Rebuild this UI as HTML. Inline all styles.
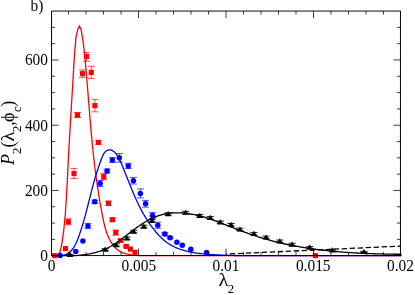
<!DOCTYPE html><html><head><meta charset="utf-8"><style>html,body{margin:0;padding:0;background:#fff}svg{display:block;will-change:transform}text{font-family:"Liberation Serif",serif;fill:#000}</style></head><body>
<svg width="415" height="295" viewBox="0 0 415 295">
<rect width="415" height="295" fill="#fff"/>
<clipPath id="c"><rect x="50.60" y="11.05" width="350.85" height="246.15"/></clipPath>
<g clip-path="url(#c)" fill="none" stroke-width="1.30" stroke-linejoin="miter">
<path d="M51.60 255.70 L53.24 255.70 L54.98 255.70 L56.72 255.70 L58.47 254.34 L60.21 251.23 L61.96 243.30 L63.70 230.77 L65.45 213.04 L67.19 183.47 L68.93 148.04 L70.68 118.15 L72.42 89.53 L74.17 59.21 L75.91 37.93 L77.66 29.66 L79.40 26.08 L81.14 29.78 L82.89 40.13 L84.63 54.75 L86.38 73.22 L88.12 95.04 L89.87 116.97 L91.61 136.86 L93.35 154.21 L95.10 169.25 L96.84 182.38 L98.59 194.00 L100.33 204.39 L102.08 213.80 L103.82 222.32 L105.56 229.23 L107.31 234.44 L109.05 238.47 L110.80 241.70 L112.54 244.38 L114.29 246.62 L116.03 248.48 L117.77 249.98 L119.52 251.15 L121.26 252.06 L123.01 252.77 L124.75 253.35 L126.49 253.81 L128.24 254.20 L129.98 254.52 L131.73 254.79 L133.47 255.02 L135.22 255.22 L136.96 255.37 L138.70 255.50 L140.45 255.60 L142.19 255.67 L143.94 255.70 L145.68 255.70 L147.43 255.70 L149.17 255.70 L150.91 255.70 L152.66 255.70 L154.40 255.70 L156.15 255.68 L157.89 255.66 L159.64 255.65 L161.38 255.65 L163.12 255.66 L164.87 255.69 L166.61 255.70 L168.36 255.70 L170.10 255.70 L171.85 255.70 L173.59 255.70 L175.33 255.70 L177.08 255.70 L178.82 255.70 L180.57 255.70 L182.31 255.70 L184.06 255.70 L185.80 255.70 L187.54 255.70 L189.29 255.70 L191.03 255.70 L192.78 255.70 L194.52 255.70 L196.26 255.70 L198.01 255.70 L199.75 255.70 L201.50 255.70 L203.24 255.70 L204.99 255.70 L206.73 255.70 L208.47 255.70 L210.22 255.70 L211.96 255.70 L213.71 255.70 L215.45 255.70 L217.20 255.70 L218.94 255.70 L220.68 255.70 L222.43 255.70 L224.17 255.70 L225.92 255.70 L227.66 255.70 L229.41 255.70 L231.15 255.70 L232.89 255.70 L234.64 255.70 L236.38 255.70 L238.13 255.70 L239.87 255.70 L241.62 255.70 L243.36 255.70 L245.10 255.70 L246.85 255.70 L248.59 255.70 L250.34 255.70 L252.08 255.70 L253.83 255.70 L255.57 255.70 L257.31 255.70 L259.06 255.70 L260.80 255.70 L262.55 255.70 L264.29 255.70 L266.03 255.70 L267.78 255.70 L269.52 255.70 L271.27 255.70 L273.01 255.70 L274.76 255.70 L276.50 255.70 L278.24 255.70 L279.99 255.70 L281.73 255.70 L283.48 255.70 L285.22 255.70 L286.97 255.70 L288.71 255.70 L290.45 255.70 L292.20 255.70 L293.94 255.70 L295.69 255.70 L297.43 255.70 L299.18 255.70 L300.92 255.70 L302.66 255.70 L304.41 255.70 L306.15 255.70 L307.90 255.70 L309.64 255.70 L311.39 255.70 L313.13 255.70 L314.87 255.70 L316.62 255.70 L318.36 255.70 L320.11 255.70 L321.85 255.70 L323.60 255.70 L325.34 255.70 L327.08 255.70 L328.83 255.70 L330.57 255.70 L332.32 255.70 L334.06 255.70 L335.80 255.70 L337.55 255.70 L339.29 255.70 L341.04 255.70 L342.78 255.70 L344.53 255.70 L346.27 255.70 L348.01 255.70 L349.76 255.70 L351.50 255.70 L353.25 255.70 L354.99 255.70 L356.74 255.70 L358.48 255.70 L360.22 255.70 L361.97 255.70 L363.71 255.70 L365.46 255.70 L367.20 255.70 L368.95 255.70 L370.69 255.70 L372.43 255.70 L374.18 255.70 L375.92 255.70 L377.67 255.70 L379.41 255.70 L381.16 255.70 L382.90 255.70 L384.64 255.70 L386.39 255.70 L388.13 255.70 L389.88 255.70 L391.62 255.70 L393.37 255.70 L395.11 255.70 L396.85 255.70 L398.60 255.70 L400.34 255.70 L402.09 255.70 L400.45 255.70" stroke="#f00"/>
<path d="M51.60 255.70 L53.24 255.70 L54.98 255.70 L56.72 255.70 L58.47 255.70 L60.21 255.70 L61.96 255.65 L63.70 255.21 L65.45 254.59 L67.19 253.77 L68.93 252.66 L70.68 251.21 L72.42 249.30 L74.17 246.80 L75.91 243.54 L77.66 239.44 L79.40 234.72 L81.14 229.56 L82.89 223.93 L84.63 217.84 L86.38 211.33 L88.12 204.51 L89.87 197.55 L91.61 190.67 L93.35 184.09 L95.10 177.92 L96.84 172.19 L98.59 166.88 L100.33 161.92 L102.08 157.28 L103.82 153.58 L105.56 151.43 L107.31 150.31 L109.05 149.85 L110.80 149.97 L112.54 150.63 L114.29 151.90 L116.03 153.77 L117.77 156.24 L119.52 159.41 L121.26 163.35 L123.01 167.59 L124.75 171.89 L126.49 176.24 L128.24 180.60 L129.98 184.94 L131.73 189.21 L133.47 193.38 L135.22 197.40 L136.96 201.25 L138.70 204.92 L140.45 208.39 L142.19 211.67 L143.94 214.77 L145.68 217.69 L147.43 220.46 L149.17 223.07 L150.91 225.55 L152.66 227.89 L154.40 230.11 L156.15 232.22 L157.89 234.21 L159.64 236.09 L161.38 237.83 L163.12 239.44 L164.87 240.92 L166.61 242.26 L168.36 243.48 L170.10 244.58 L171.85 245.58 L173.59 246.49 L175.33 247.32 L177.08 248.07 L178.82 248.76 L180.57 249.39 L182.31 249.96 L184.06 250.48 L185.80 250.96 L187.54 251.39 L189.29 251.78 L191.03 252.14 L192.78 252.47 L194.52 252.76 L196.26 253.03 L198.01 253.28 L199.75 253.50 L201.50 253.70 L203.24 253.88 L204.99 254.05 L206.73 254.20 L208.47 254.34 L210.22 254.47 L211.96 254.59 L213.71 254.70 L215.45 254.81 L217.20 254.91 L218.94 255.00 L220.68 255.08 L222.43 255.15 L224.17 255.22 L225.92 255.28 L227.66 255.34 L229.41 255.39 L231.15 255.43 L232.89 255.47 L234.64 255.51 L236.38 255.54 L238.13 255.57 L239.87 255.59 L241.62 255.61 L243.36 255.63 L245.10 255.65 L246.85 255.66 L248.59 255.67 L250.34 255.68 L252.08 255.69 L253.83 255.70 L255.57 255.70 L257.31 255.70 L259.06 255.70 L260.80 255.70 L262.55 255.70 L264.29 255.70 L266.03 255.70 L267.78 255.70 L269.52 255.70 L271.27 255.70 L273.01 255.70 L274.76 255.70 L276.50 255.70 L278.24 255.70 L279.99 255.70 L281.73 255.70 L283.48 255.70 L285.22 255.70 L286.97 255.70 L288.71 255.70 L290.45 255.70 L292.20 255.70 L293.94 255.70 L295.69 255.70 L297.43 255.70 L299.18 255.70 L300.92 255.70 L302.66 255.70 L304.41 255.70 L306.15 255.70 L307.90 255.70 L309.64 255.70 L311.39 255.70 L313.13 255.70 L314.87 255.70 L316.62 255.70 L318.36 255.70 L320.11 255.70 L321.85 255.70 L323.60 255.70 L325.34 255.70 L327.08 255.70 L328.83 255.70 L330.57 255.70 L332.32 255.70 L334.06 255.70 L335.80 255.70 L337.55 255.70 L339.29 255.70 L341.04 255.70 L342.78 255.70 L344.53 255.70 L346.27 255.70 L348.01 255.70 L349.76 255.70 L351.50 255.70 L353.25 255.70 L354.99 255.70 L356.74 255.70 L358.48 255.70 L360.22 255.70 L361.97 255.70 L363.71 255.70 L365.46 255.70 L367.20 255.70 L368.95 255.70 L370.69 255.70 L372.43 255.70 L374.18 255.70 L375.92 255.70 L377.67 255.70 L379.41 255.70 L381.16 255.70 L382.90 255.70 L384.64 255.70 L386.39 255.70 L388.13 255.70 L389.88 255.70 L391.62 255.70 L393.37 255.70 L395.11 255.70 L396.85 255.70 L398.60 255.70 L400.34 255.70 L402.09 255.70 L400.45 255.70" stroke="#00f"/>
</g>

<rect x="52.25" y="253.05" width="5.1" height="5.1" fill="#f00"/>

<rect x="62.95" y="246.05" width="5.1" height="5.1" fill="#f00"/>
<path d="M68.40 218.80V224.80 M64.90 218.80h7 M64.90 224.80h7" stroke="#f00" stroke-width="0.68" fill="none"/>
<rect x="65.85" y="219.25" width="5.1" height="5.1" fill="#f00"/>
<path d="M74.00 168.60V178.40 M70.50 168.60h7 M70.50 178.40h7" stroke="#f00" stroke-width="0.68" fill="none"/>
<rect x="71.45" y="170.95" width="5.1" height="5.1" fill="#f00"/>
<path d="M77.50 112.50V117.50 M74.00 112.50h7 M74.00 117.50h7" stroke="#f00" stroke-width="0.68" fill="none"/>
<rect x="74.95" y="112.45" width="5.1" height="5.1" fill="#f00"/>
<path d="M82.50 69.85V77.35 M79.00 69.85h7 M79.00 77.35h7" stroke="#f00" stroke-width="0.68" fill="none"/>
<rect x="79.95" y="71.05" width="5.1" height="5.1" fill="#f00"/>
<path d="M86.50 52.40V61.25 M83.00 52.40h7 M83.00 61.25h7" stroke="#f00" stroke-width="0.68" fill="none"/>
<rect x="83.95" y="53.85" width="5.1" height="5.1" fill="#f00"/>
<path d="M91.30 66.35V78.45 M87.80 66.35h7 M87.80 78.45h7" stroke="#f00" stroke-width="0.68" fill="none"/>
<rect x="88.75" y="69.85" width="5.1" height="5.1" fill="#f00"/>
<path d="M94.90 99.35V111.85 M91.40 99.35h7 M91.40 111.85h7" stroke="#f00" stroke-width="0.68" fill="none"/>
<rect x="92.35" y="103.05" width="5.1" height="5.1" fill="#f00"/>
<path d="M98.40 140.40V144.40 M94.90 140.40h7 M94.90 144.40h7" stroke="#f00" stroke-width="0.68" fill="none"/>
<rect x="95.85" y="139.85" width="5.1" height="5.1" fill="#f00"/>
<path d="M103.80 173.70V179.70 M100.30 173.70h7 M100.30 179.70h7" stroke="#f00" stroke-width="0.68" fill="none"/>
<rect x="101.25" y="174.15" width="5.1" height="5.1" fill="#f00"/>
<path d="M108.50 201.05V205.45 M105.00 201.05h7 M105.00 205.45h7" stroke="#f00" stroke-width="0.68" fill="none"/>
<rect x="105.95" y="200.70" width="5.1" height="5.1" fill="#f00"/>
<path d="M112.50 218.20V221.20 M109.00 218.20h7 M109.00 221.20h7" stroke="#f00" stroke-width="0.68" fill="none"/>
<rect x="109.95" y="217.15" width="5.1" height="5.1" fill="#f00"/>
<path d="M115.80 230.10V235.10 M112.30 230.10h7 M112.30 235.10h7" stroke="#f00" stroke-width="0.68" fill="none"/>
<rect x="113.25" y="230.05" width="5.1" height="5.1" fill="#f00"/>
<path d="M120.70 239.50V241.50 M117.20 239.50h7 M117.20 241.50h7" stroke="#f00" stroke-width="0.68" fill="none"/>
<rect x="118.15" y="237.95" width="5.1" height="5.1" fill="#f00"/>
<path d="M126.20 245.60V247.20 M122.70 245.60h7 M122.70 247.20h7" stroke="#f00" stroke-width="0.68" fill="none"/>
<rect x="123.65" y="243.85" width="5.1" height="5.1" fill="#f00"/>

<rect x="127.85" y="246.55" width="5.1" height="5.1" fill="#f00"/>

<rect x="132.45" y="249.75" width="5.1" height="5.1" fill="#f00"/>

<rect x="312.85" y="253.05" width="5.1" height="5.1" fill="#f00"/>

<circle cx="60.10" cy="255.55" r="2.75" fill="#00f"/>

<circle cx="75.80" cy="251.60" r="2.75" fill="#00f"/>

<circle cx="82.90" cy="241.10" r="2.75" fill="#00f"/>
<path d="M87.95 223.40V228.40 M84.45 223.40h7 M84.45 228.40h7" stroke="#00f" stroke-width="0.68" fill="none"/>
<circle cx="87.95" cy="225.90" r="2.75" fill="#00f"/>
<path d="M94.80 200.10V203.50 M91.30 200.10h7 M91.30 203.50h7" stroke="#00f" stroke-width="0.68" fill="none"/>
<circle cx="94.80" cy="201.80" r="2.75" fill="#00f"/>
<path d="M100.20 180.40V186.60 M96.70 180.40h7 M96.70 186.60h7" stroke="#00f" stroke-width="0.68" fill="none"/>
<circle cx="100.20" cy="183.50" r="2.75" fill="#00f"/>
<path d="M107.10 169.05V173.05 M103.60 169.05h7 M103.60 173.05h7" stroke="#00f" stroke-width="0.68" fill="none"/>
<circle cx="107.10" cy="171.05" r="2.75" fill="#00f"/>
<path d="M112.40 157.60V162.50 M108.90 157.60h7 M108.90 162.50h7" stroke="#00f" stroke-width="0.68" fill="none"/>
<circle cx="112.40" cy="160.05" r="2.75" fill="#00f"/>
<path d="M119.30 153.50V162.10 M115.80 153.50h7 M115.80 162.10h7" stroke="#00f" stroke-width="0.68" fill="none"/>
<circle cx="119.30" cy="157.80" r="2.75" fill="#00f"/>
<path d="M128.25 163.30V168.50 M124.75 163.30h7 M124.75 168.50h7" stroke="#00f" stroke-width="0.68" fill="none"/>
<circle cx="128.25" cy="165.90" r="2.75" fill="#00f"/>
<path d="M133.40 177.40V184.00 M129.90 177.40h7 M129.90 184.00h7" stroke="#00f" stroke-width="0.68" fill="none"/>
<circle cx="133.40" cy="180.70" r="2.75" fill="#00f"/>
<path d="M140.40 188.90V197.90 M136.90 188.90h7 M136.90 197.90h7" stroke="#00f" stroke-width="0.68" fill="none"/>
<circle cx="140.40" cy="193.40" r="2.75" fill="#00f"/>
<path d="M145.60 200.40V207.20 M142.10 200.40h7 M142.10 207.20h7" stroke="#00f" stroke-width="0.68" fill="none"/>
<circle cx="145.60" cy="203.80" r="2.75" fill="#00f"/>
<path d="M152.50 212.60V218.60 M149.00 212.60h7 M149.00 218.60h7" stroke="#00f" stroke-width="0.68" fill="none"/>
<circle cx="152.50" cy="215.60" r="2.75" fill="#00f"/>
<path d="M157.80 222.15V228.35 M154.30 222.15h7 M154.30 228.35h7" stroke="#00f" stroke-width="0.68" fill="none"/>
<circle cx="157.80" cy="225.25" r="2.75" fill="#00f"/>
<path d="M164.80 232.40V235.40 M161.30 232.40h7 M161.30 235.40h7" stroke="#00f" stroke-width="0.68" fill="none"/>
<circle cx="164.80" cy="233.90" r="2.75" fill="#00f"/>
<path d="M170.10 236.70V238.70 M166.60 236.70h7 M166.60 238.70h7" stroke="#00f" stroke-width="0.68" fill="none"/>
<circle cx="170.10" cy="237.70" r="2.75" fill="#00f"/>

<circle cx="176.90" cy="242.20" r="2.75" fill="#00f"/>

<circle cx="182.30" cy="245.30" r="2.75" fill="#00f"/>

<circle cx="190.80" cy="249.30" r="2.75" fill="#00f"/>

<circle cx="206.60" cy="252.40" r="2.75" fill="#00f"/>
<g clip-path="url(#c)" fill="none" stroke-width="1.30" stroke-linejoin="miter">
<path d="M51.60 255.70 L53.24 255.70 L54.98 255.70 L56.72 255.70 L58.47 255.70 L60.21 255.70 L61.96 255.70 L63.70 255.70 L65.45 255.70 L67.19 255.70 L68.93 255.70 L70.68 255.70 L72.42 255.70 L74.17 255.66 L75.91 255.56 L77.66 255.43 L79.40 255.29 L81.14 255.11 L82.89 254.91 L84.63 254.68 L86.38 254.43 L88.12 254.13 L89.87 253.81 L91.61 253.45 L93.35 253.05 L95.10 252.61 L96.84 252.12 L98.59 251.60 L100.33 251.02 L102.08 250.39 L103.82 249.70 L105.56 248.95 L107.31 248.14 L109.05 247.26 L110.80 246.30 L112.54 245.28 L114.29 244.20 L116.03 243.06 L117.77 241.86 L119.52 240.62 L121.26 239.34 L123.01 238.03 L124.75 236.69 L126.49 235.34 L128.24 233.99 L129.98 232.63 L131.73 231.28 L133.47 229.95 L135.22 228.65 L136.96 227.38 L138.70 226.16 L140.45 224.97 L142.19 223.83 L143.94 222.74 L145.68 221.70 L147.43 220.71 L149.17 219.77 L150.91 218.89 L152.66 218.07 L154.40 217.30 L156.15 216.59 L157.89 215.95 L159.64 215.36 L161.38 214.84 L163.12 214.39 L164.87 213.99 L166.61 213.66 L168.36 213.39 L170.10 213.17 L171.85 213.00 L173.59 212.88 L175.33 212.81 L177.08 212.79 L178.82 212.81 L180.57 212.87 L182.31 212.97 L184.06 213.11 L185.80 213.29 L187.54 213.50 L189.29 213.76 L191.03 214.04 L192.78 214.36 L194.52 214.71 L196.26 215.10 L198.01 215.51 L199.75 215.95 L201.50 216.42 L203.24 216.91 L204.99 217.43 L206.73 217.97 L208.47 218.53 L210.22 219.12 L211.96 219.72 L213.71 220.33 L215.45 220.97 L217.20 221.61 L218.94 222.27 L220.68 222.94 L222.43 223.61 L224.17 224.30 L225.92 224.98 L227.66 225.67 L229.41 226.36 L231.15 227.05 L232.89 227.74 L234.64 228.42 L236.38 229.10 L238.13 229.77 L239.87 230.43 L241.62 231.08 L243.36 231.72 L245.10 232.35 L246.85 232.97 L248.59 233.58 L250.34 234.19 L252.08 234.78 L253.83 235.36 L255.57 235.93 L257.31 236.50 L259.06 237.05 L260.80 237.59 L262.55 238.12 L264.29 238.64 L266.03 239.15 L267.78 239.64 L269.52 240.13 L271.27 240.60 L273.01 241.07 L274.76 241.52 L276.50 241.96 L278.24 242.39 L279.99 242.81 L281.73 243.21 L283.48 243.61 L285.22 244.00 L286.97 244.37 L288.71 244.74 L290.45 245.09 L292.20 245.44 L293.94 245.78 L295.69 246.11 L297.43 246.42 L299.18 246.73 L300.92 247.04 L302.66 247.33 L304.41 247.61 L306.15 247.89 L307.90 248.16 L309.64 248.42 L311.39 248.67 L313.13 248.92 L314.87 249.15 L316.62 249.38 L318.36 249.61 L320.11 249.82 L321.85 250.03 L323.60 250.24 L325.34 250.43 L327.08 250.62 L328.83 250.80 L330.57 250.98 L332.32 251.15 L334.06 251.32 L335.80 251.48 L337.55 251.63 L339.29 251.78 L341.04 251.92 L342.78 252.06 L344.53 252.19 L346.27 252.32 L348.01 252.44 L349.76 252.56 L351.50 252.67 L353.25 252.78 L354.99 252.88 L356.74 252.98 L358.48 253.07 L360.22 253.16 L361.97 253.25 L363.71 253.33 L365.46 253.41 L367.20 253.48 L368.95 253.55 L370.69 253.62 L372.43 253.68 L374.18 253.74 L375.92 253.80 L377.67 253.85 L379.41 253.90 L381.16 253.95 L382.90 253.99 L384.64 254.03 L386.39 254.07 L388.13 254.11 L389.88 254.14 L391.62 254.17 L393.37 254.20 L395.11 254.23 L396.85 254.25 L398.60 254.27 L400.34 254.29 L402.09 254.29 L400.45 254.29" stroke="#000"/>
<path d="M226.00 254.10 L400.45 246.10" stroke="#000" stroke-dasharray="5.4 2.6" stroke-dashoffset="4.2"/>
</g>
<path d="M66.40 254.30h7.2 M66.40 255.30h7.2" stroke="#000" stroke-width="0.85" fill="none"/>
<path d="M70.00 251.85 L73.25 257.00 L66.75 257.00 Z" fill="#000"/>
<path d="M101.60 248.60h7.2 M101.60 250.40h7.2" stroke="#000" stroke-width="0.85" fill="none"/>
<path d="M105.20 246.55 L108.45 251.70 L101.95 251.70 Z" fill="#000"/>
<path d="M112.60 243.75h7.2 M112.60 246.25h7.2" stroke="#000" stroke-width="0.85" fill="none"/>
<path d="M116.20 242.05 L119.45 247.20 L112.95 247.20 Z" fill="#000"/>
<path d="M123.30 237.05h7.2 M123.30 239.55h7.2" stroke="#000" stroke-width="0.85" fill="none"/>
<path d="M126.90 235.35 L130.15 240.50 L123.65 240.50 Z" fill="#000"/>
<path d="M130.00 230.25h7.2 M130.00 232.75h7.2" stroke="#000" stroke-width="0.85" fill="none"/>
<path d="M133.60 228.55 L136.85 233.70 L130.35 233.70 Z" fill="#000"/>
<path d="M140.20 225.25h7.2 M140.20 227.75h7.2" stroke="#000" stroke-width="0.85" fill="none"/>
<path d="M143.80 223.55 L147.05 228.70 L140.55 228.70 Z" fill="#000"/>
<path d="M148.40 219.45h7.2 M148.40 221.95h7.2" stroke="#000" stroke-width="0.85" fill="none"/>
<path d="M152.00 217.75 L155.25 222.90 L148.75 222.90 Z" fill="#000"/>
<path d="M164.50 212.75h7.2 M164.50 215.25h7.2" stroke="#000" stroke-width="0.85" fill="none"/>
<path d="M168.10 211.05 L171.35 216.20 L164.85 216.20 Z" fill="#000"/>
<path d="M182.00 211.35h7.2 M182.00 213.85h7.2" stroke="#000" stroke-width="0.85" fill="none"/>
<path d="M185.60 209.65 L188.85 214.80 L182.35 214.80 Z" fill="#000"/>
<path d="M196.20 214.55h7.2 M196.20 217.05h7.2" stroke="#000" stroke-width="0.85" fill="none"/>
<path d="M199.80 212.85 L203.05 218.00 L196.55 218.00 Z" fill="#000"/>
<path d="M206.65 216.50h7.2 M206.65 219.00h7.2" stroke="#000" stroke-width="0.85" fill="none"/>
<path d="M210.25 214.80 L213.50 219.95 L207.00 219.95 Z" fill="#000"/>
<path d="M216.80 221.00h7.2 M216.80 223.50h7.2" stroke="#000" stroke-width="0.85" fill="none"/>
<path d="M220.40 219.30 L223.65 224.45 L217.15 224.45 Z" fill="#000"/>
<path d="M227.40 223.50h7.2 M227.40 226.00h7.2" stroke="#000" stroke-width="0.85" fill="none"/>
<path d="M231.00 221.80 L234.25 226.95 L227.75 226.95 Z" fill="#000"/>
<path d="M236.30 228.15h7.2 M236.30 230.65h7.2" stroke="#000" stroke-width="0.85" fill="none"/>
<path d="M239.90 226.45 L243.15 231.60 L236.65 231.60 Z" fill="#000"/>
<path d="M250.30 232.45h7.2 M250.30 234.95h7.2" stroke="#000" stroke-width="0.85" fill="none"/>
<path d="M253.90 230.75 L257.15 235.90 L250.65 235.90 Z" fill="#000"/>
<path d="M262.40 236.15h7.2 M262.40 238.65h7.2" stroke="#000" stroke-width="0.85" fill="none"/>
<path d="M266.00 234.45 L269.25 239.60 L262.75 239.60 Z" fill="#000"/>
<path d="M276.20 240.05h7.2 M276.20 242.55h7.2" stroke="#000" stroke-width="0.85" fill="none"/>
<path d="M279.80 238.35 L283.05 243.50 L276.55 243.50 Z" fill="#000"/>
<path d="M288.50 243.25h7.2 M288.50 245.75h7.2" stroke="#000" stroke-width="0.85" fill="none"/>
<path d="M292.10 241.55 L295.35 246.70 L288.85 246.70 Z" fill="#000"/>
<path d="M306.10 246.60h7.2 M306.10 248.40h7.2" stroke="#000" stroke-width="0.85" fill="none"/>
<path d="M309.70 244.55 L312.95 249.70 L306.45 249.70 Z" fill="#000"/>
<path d="M328.70 249.30h7.2 M328.70 251.10h7.2" stroke="#000" stroke-width="0.85" fill="none"/>
<path d="M332.30 247.25 L335.55 252.40 L329.05 252.40 Z" fill="#000"/>
<path d="M360.30 251.40h7.2 M360.30 252.40h7.2" stroke="#000" stroke-width="0.85" fill="none"/>
<path d="M363.90 248.95 L367.15 254.10 L360.65 254.10 Z" fill="#000"/>
<path d="M68.50 255.55v-3.50 M68.50 11.05v3.50 M86.00 255.55v-3.50 M86.00 11.05v3.50 M103.50 255.55v-3.50 M103.50 11.05v3.50 M121.00 255.55v-3.50 M121.00 11.05v3.50 M138.50 255.55v-7.00 M138.50 11.05v7.00 M156.00 255.55v-3.50 M156.00 11.05v3.50 M173.50 255.55v-3.50 M173.50 11.05v3.50 M191.00 255.55v-3.50 M191.00 11.05v3.50 M208.50 255.55v-3.50 M208.50 11.05v3.50 M226.00 255.55v-7.00 M226.00 11.05v7.00 M243.50 255.55v-3.50 M243.50 11.05v3.50 M261.00 255.55v-3.50 M261.00 11.05v3.50 M278.50 255.55v-3.50 M278.50 11.05v3.50 M296.00 255.55v-3.50 M296.00 11.05v3.50 M313.50 255.55v-7.00 M313.50 11.05v7.00 M331.00 255.55v-3.50 M331.00 11.05v3.50 M348.50 255.55v-3.50 M348.50 11.05v3.50 M366.00 255.55v-3.50 M366.00 11.05v3.50 M383.50 255.55v-3.50 M383.50 11.05v3.50 M51.60 239.39h3.50 M400.45 239.39h-3.50 M51.60 223.08h3.50 M400.45 223.08h-3.50 M51.60 206.77h3.50 M400.45 206.77h-3.50 M51.60 190.46h7.00 M400.45 190.46h-7.00 M51.60 174.15h3.50 M400.45 174.15h-3.50 M51.60 157.84h3.50 M400.45 157.84h-3.50 M51.60 141.53h3.50 M400.45 141.53h-3.50 M51.60 125.22h7.00 M400.45 125.22h-7.00 M51.60 108.91h3.50 M400.45 108.91h-3.50 M51.60 92.60h3.50 M400.45 92.60h-3.50 M51.60 76.29h3.50 M400.45 76.29h-3.50 M51.60 59.98h7.00 M400.45 59.98h-7.00 M51.60 43.67h3.50 M400.45 43.67h-3.50 M51.60 27.36h3.50 M400.45 27.36h-3.50" stroke="#000" stroke-width="0.75" fill="none"/>
<path d="M52.15 11.05H399.95 M52.15 255.55H399.95" stroke="#000" stroke-width="0.95" fill="none"/>
<path d="M51.55 10.57V256.03" stroke="#000" stroke-width="1.0" fill="none"/>
<path d="M400.45 10.57V256.03" stroke="#000" stroke-width="1.0" fill="none"/>
<text transform="translate(51.60 270.6) scale(1 1.150)" font-size="15.4" text-anchor="middle">0</text>
<text transform="translate(138.81 270.6) scale(1 1.150)" font-size="15.4" text-anchor="middle">0.005</text>
<text transform="translate(226.02 270.6) scale(1 1.150)" font-size="15.4" text-anchor="middle">0.01</text>
<text transform="translate(313.24 270.6) scale(1 1.150)" font-size="15.4" text-anchor="middle">0.015</text>
<text transform="translate(400.45 270.6) scale(1 1.150)" font-size="15.4" text-anchor="middle">0.02</text>
<text transform="translate(48.0 261.05) scale(1 1.150)" font-size="15.4" text-anchor="end">0</text>
<text transform="translate(48.0 195.81) scale(1 1.150)" font-size="15.4" text-anchor="end">200</text>
<text transform="translate(48.0 130.57) scale(1 1.150)" font-size="15.4" text-anchor="end">400</text>
<text transform="translate(48.0 65.33) scale(1 1.150)" font-size="15.4" text-anchor="end">600</text>
<text transform="translate(30.6 10.75) scale(1 1.08)" font-size="15.4">b)</text>
<text x="218.4" y="286" font-size="18"><tspan textLength="9.9" lengthAdjust="spacingAndGlyphs">λ</tspan><tspan font-size="12.8" dy="7.0" dx="-0.5">2</tspan></text>
<text transform="translate(13.9 164.90) rotate(-90)" font-size="18"><tspan fill="#000" font-style="italic" font-size="18" dy="0.00" dx="0.00">P</tspan><tspan fill="#000"  font-size="12.8" dy="7.30" dx="0.00">2</tspan><tspan fill="#000"  font-size="18" dy="-7.30" dx="0.00">(</tspan><tspan fill="#000"  font-size="18" dy="0.00" dx="0.00" textLength="9.9" lengthAdjust="spacingAndGlyphs">λ</tspan><tspan fill="#000"  font-size="12.8" dy="7.30" dx="-0.50">2</tspan><tspan fill="#000"  font-size="18" dy="-7.30" dx="0.00">,</tspan><tspan fill="#000"  font-size="18" dy="0.00" dx="-0.70">ϕ</tspan><tspan fill="#000"  font-size="12.8" dy="7.30" dx="0.30">c</tspan><tspan fill="#000"  font-size="18" dy="-7.30" dx="-0.30">)</tspan></text>
</svg></body></html>
